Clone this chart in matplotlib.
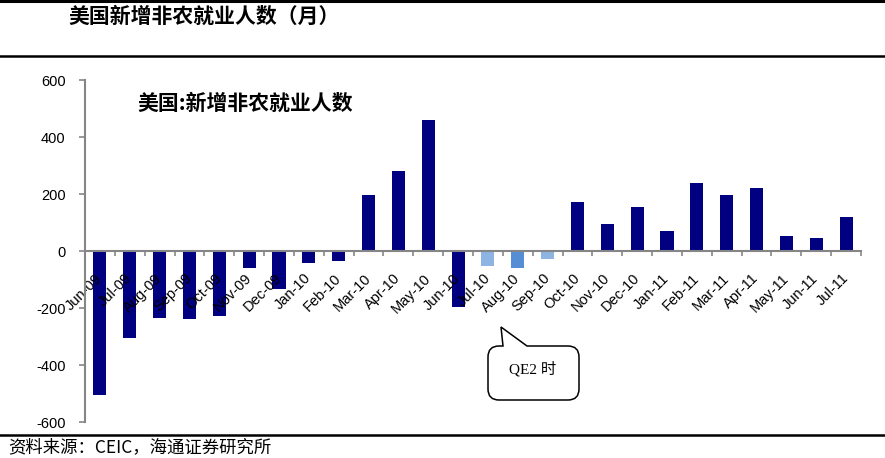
import matplotlib.pyplot as plt
from matplotlib.lines import Line2D
from matplotlib.path import Path
from matplotlib.patches import PathPatch
from matplotlib.transforms import Affine2D

plt.rcParams['axes.unicode_minus'] = False

# 月份
months = ['Jun-09', 'Jul-09', 'Aug-09', 'Sep-09', 'Oct-09', 'Nov-09', 'Dec-09',
          'Jan-10', 'Feb-10', 'Mar-10', 'Apr-10', 'May-10', 'Jun-10', 'Jul-10',
          'Aug-10', 'Sep-10', 'Oct-10', 'Nov-10', 'Dec-10', 'Jan-11', 'Feb-11',
          'Mar-11', 'Apr-11', 'May-11', 'Jun-11', 'Jul-11']
# 新增非农就业人数（千人）
payrolls = [-505, -305, -234, -239, -227, -60, -132,
            -42, -35, 196, 280, 460, -196, -53,
            -58, -29, 172, 94, 154, 70, 238,
            196, 221, 53, 47, 119]
# QE2 时期的月份
qe2_months = ['Jul-10', 'Aug-10', 'Sep-10']

W, H = 885, 458
fig = plt.figure(figsize=(W / 100, H / 100), dpi=100)
fig.patch.set_facecolor('white')

cjk = ['Noto Sans CJK SC', 'DejaVu Sans']

# 坐标区
ax_l, ax_w, ax_t, ax_h = 85, 776, 80, 342
ax = fig.add_axes([ax_l / W, 1 - (ax_t + ax_h) / H, ax_w / W, ax_h / H])

colors = []
for m in months:
    if m == 'Aug-10':
        colors.append('#558ed5')
    elif m in qe2_months:
        colors.append('#8db4e2')
    else:
        colors.append('#000080')

x = list(range(len(months)))
ax.bar(x, payrolls, width=0.44, color=colors)

ax.set_xlim(-0.5, len(months) - 0.5)
ax.set_ylim(-600, 600)
ax.set_yticks([-600, -400, -200, 0, 200, 400, 600])

ax.spines['top'].set_visible(False)
ax.spines['right'].set_visible(False)
ax.spines['bottom'].set_position(('data', 0))
for s in ['left', 'bottom']:
    ax.spines[s].set_color('#868686')
    ax.spines[s].set_linewidth(1.5)

ax.set_xticks([i - 0.5 for i in range(len(months) + 1)])
ax.set_xticklabels([])
ax.set_xticks(x, minor=True)
ax.set_xticklabels(months, minor=True, rotation=45, ha='right', va='center',
                   rotation_mode='anchor', fontsize=10.5, family='Liberation Sans')
ax.tick_params(axis='x', which='major', direction='out', length=3.5,
               color='#868686', width=1.2)
ax.tick_params(axis='x', which='minor', length=0, pad=18)
ax.tick_params(axis='y', direction='out', length=4, color='#868686', width=1.2,
               pad=10, labelsize=10.5)
for lab in ax.get_yticklabels():
    lab.set_family('Liberation Sans')

ax.text((137 - ax_l) / ax_w, 1 - (103 - ax_t) / ax_h, '美国:新增非农就业人数',
        transform=ax.transAxes, family=cjk, fontsize=15, fontweight='bold',
        va='center', ha='left')

# 标题与分隔线
fig.text(68 / W, 1 - 16 / H, '美国新增非农就业人数（月）', family=cjk, fontsize=15,
         fontweight='bold', va='center', ha='left')
fig.text(8 / W, 1 - 447 / H, '资料来源：CEIC，海通证券研究所', family=cjk, fontsize=12.5,
         va='center', ha='left')
for y, lw in [(1.2, 2.2), (55.5, 1.8), (434.6, 1.8)]:
    fig.add_artist(Line2D([0, 1], [1 - y / H, 1 - y / H], transform=fig.transFigure,
                          color='black', lw=lw))

# QE2 对话框
px = Affine2D().scale(1 / W, -1 / H).translate(0, 1) + fig.transFigure
x0, x1, y0, y1, r = 488, 579, 346, 400, 11
verts = [(x0 + r, y0), (503, y0), (501, 327), (527, y0), (x1 - r, y0),
         (x1, y0), (x1, y0 + r), (x1, y1 - r), (x1, y1), (x1 - r, y1),
         (x0 + r, y1), (x0, y1), (x0, y1 - r), (x0, y0 + r), (x0, y0), (x0 + r, y0)]
codes = [Path.MOVETO, Path.LINETO, Path.LINETO, Path.LINETO, Path.LINETO,
         Path.CURVE3, Path.CURVE3, Path.LINETO, Path.CURVE3, Path.CURVE3,
         Path.LINETO, Path.CURVE3, Path.CURVE3, Path.LINETO, Path.CURVE3, Path.CURVE3]
fig.add_artist(PathPatch(Path(verts, codes), transform=px, facecolor='white',
                         edgecolor='black', lw=1.1))
fig.text(533 / W, 1 - 369 / H, 'QE2 时', family=['Liberation Serif', 'Noto Sans CJK SC'],
         fontsize=11, va='center', ha='center')

fig.savefig('out.png', dpi=100)
